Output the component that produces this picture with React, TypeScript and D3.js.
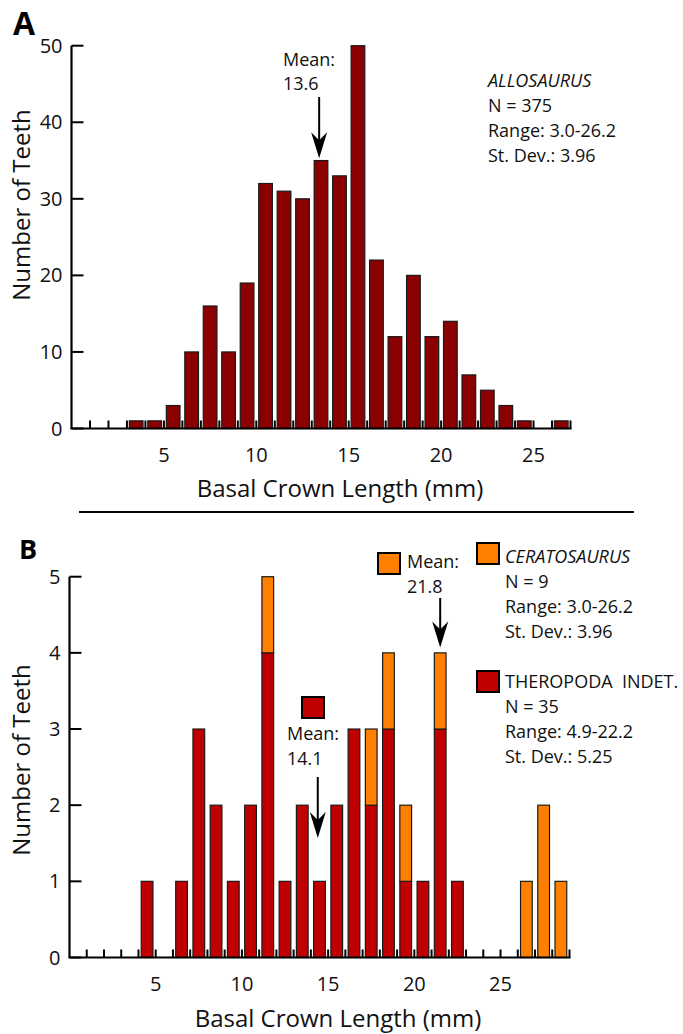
import * as d3 from "d3";

// Panel A: Allosaurus tooth counts per 1 mm bin (bin start, count)
const allosaurusBins = [3, 4, 5, 6, 7, 8, 9, 10, 11, 12, 13, 14, 15, 16, 17, 18, 19, 20, 21, 22, 23, 24, 26];
const allosaurusCounts = [1, 1, 3, 10, 16, 10, 19, 32, 31, 30, 35, 33, 50, 22, 12, 20, 12, 14, 7, 5, 3, 1, 1];

// Panel B: stacked, theropoda indet. below, ceratosaurus on top
const theropodaBins = [4, 6, 7, 8, 9, 10, 11, 12, 13, 14, 15, 16, 17, 18, 19, 20, 21, 22];
const theropodaCounts = [1, 1, 3, 2, 1, 2, 4, 1, 2, 1, 2, 3, 2, 3, 1, 1, 3, 1];
const ceratosaurusBins = [11, 17, 18, 19, 21, 26, 27, 28];
const ceratosaurusCounts = [1, 1, 1, 1, 1, 1, 2, 1];

const yTicksA = [0, 10, 20, 30, 40, 50];
const yTicksB = [0, 1, 2, 3, 4, 5];
const xLabels = [5, 10, 15, 20, 25];

const FONT = "'Open Sans', sans-serif";
const DARK_RED = "#8b0000";
const RED = "#c00000";
const ORANGE = "#ff8000";

function Arrow({ x, y1, y2 }: { x: number; y1: number; y2: number }) {
  return (
    <g>
      <line x1={x} x2={x} y1={y1} y2={y2 - 16} stroke="#000" strokeWidth={2} />
      <path
        d={`M${x},${y2} L${x - 8},${y2 - 26} L${x},${y2 - 18} L${x + 8},${y2 - 26} Z`}
        fill="#000"
      />
    </g>
  );
}

function Axes({
  x,
  y,
  yTicks,
  maxBin,
  labelY,
}: {
  x: d3.ScaleLinear<number, number>;
  y: d3.ScaleLinear<number, number>;
  yTicks: number[];
  maxBin: number;
  labelY: number;
}) {
  const x0 = x.range()[0];
  const y0 = y.range()[0];
  const [, yTop] = y.range();
  return (
    <g>
      <line x1={x0} x2={x0} y1={yTop} y2={y0} stroke="#000" strokeWidth={2.2} />
      <line x1={x0 - 1} x2={x.range()[1] + 1} y1={y0} y2={y0} stroke="#000" strokeWidth={2.2} />
      {yTicks.map((t) => (
        <g key={t}>
          <line x1={x0} x2={x0 + 12} y1={y(t)} y2={y(t)} stroke="#000" strokeWidth={2} />
          <text x={x0 - 9} y={y(t) + 7} textAnchor="end" fontSize={20} fontFamily={FONT} fill="#111">
            {t}
          </text>
        </g>
      ))}
      {d3.range(1, maxBin + 1).map((t) => (
        <line key={t} x1={x(t)} x2={x(t)} y1={y0} y2={y0 - 8} stroke="#000" strokeWidth={2} />
      ))}
      {xLabels.map((t) => (
        <text key={t} x={x(t)} y={labelY} textAnchor="middle" fontSize={20} fontFamily={FONT} fill="#111">
          {t}
        </text>
      ))}
    </g>
  );
}

export default function App() {
  const xA = d3.scaleLinear().domain([0, 27]).range([71.5, 570.5]);
  const yA = d3.scaleLinear().domain([0, 50]).range([428.5, 45.7]);
  const xB = d3.scaleLinear().domain([0, 29]).range([69.5, 569.5]);
  const yB = d3.scaleLinear().domain([0, 5]).range([957.5, 576.7]);

  const bwA = (xA(1) - xA(0)) * 0.74;
  const bwB = (xB(1) - xB(0)) * 0.68;

  // stacked table for panel B
  const binsB = Array.from(new Set([...theropodaBins, ...ceratosaurusBins])).sort((a, b) => a - b);
  const tableB = binsB.map((b) => {
    const ti = theropodaBins.indexOf(b);
    const ci = ceratosaurusBins.indexOf(b);
    return { bin: b, theropoda: ti >= 0 ? theropodaCounts[ti] : 0, ceratosaurus: ci >= 0 ? ceratosaurusCounts[ci] : 0 };
  });
  const stacked = d3.stack<any>().keys(["theropoda", "ceratosaurus"])(tableB);
  const colorB: Record<string, string> = { theropoda: RED, ceratosaurus: ORANGE };

  const txt = { fontFamily: FONT, fontSize: 18, fill: "#111" };

  return (
    <svg width={683} height={1034} style={{ position: "absolute", left: 0, top: 0, background: "#fff" }}>
      {/* ---- Panel A ---- */}
      <text x={13} y={35} fontFamily={FONT} fontWeight={700} fontSize={32}>A</text>
      {allosaurusBins.map((b, i) => (
        <rect
          key={b}
          x={xA(b + 0.5) - bwA / 2}
          y={yA(allosaurusCounts[i])}
          width={bwA}
          height={yA(0) - yA(allosaurusCounts[i])}
          fill={DARK_RED}
          stroke="#1a1a1a"
          strokeWidth={1.2}
        />
      ))}
      <Axes x={xA} y={yA} yTicks={yTicksA} maxBin={27} labelY={462} />
      <text x={340} y={497} textAnchor="middle" fontFamily={FONT} fontSize={24} fill="#111">
        Basal Crown Length (mm)
      </text>
      <text transform="translate(30,205) rotate(-90)" textAnchor="middle" fontFamily={FONT} fontSize={24} fill="#111">
        Number of Teeth
      </text>
      <text x={283} y={66} {...txt}>Mean:</text>
      <text x={283} y={90} {...txt}>13.6</text>
      <Arrow x={xA(13.4)} y1={yA(43.3)} y2={yA(35.3)} />
      <text x={488} y={87} {...txt} fontStyle="italic">ALLOSAURUS</text>
      <text x={488} y={112} {...txt}>N = 375</text>
      <text x={488} y={137} {...txt}>Range: 3.0-26.2</text>
      <text x={488} y={162} {...txt}>St. Dev.: 3.96</text>

      <line x1={79} x2={634} y1={512} y2={512} stroke="#000" strokeWidth={1.8} />

      {/* ---- Panel B ---- */}
      <text x={19} y={559} fontFamily={FONT} fontWeight={700} fontSize={27}>B</text>
      {stacked.map((series) =>
        series
          .filter((d) => d[1] > d[0])
          .map((d) => (
            <rect
              key={series.key + d.data.bin}
              x={xB(d.data.bin + 0.5) - bwB / 2}
              y={yB(d[1])}
              width={bwB}
              height={yB(d[0]) - yB(d[1])}
              fill={colorB[series.key]}
              stroke="#1a1a1a"
              strokeWidth={1.2}
            />
          ))
      )}
      <Axes x={xB} y={yB} yTicks={yTicksB} maxBin={29} labelY={991} />
      <text x={338} y={1027} textAnchor="middle" fontFamily={FONT} fontSize={24} fill="#111">
        Basal Crown Length (mm)
      </text>
      <text transform="translate(30,760) rotate(-90)" textAnchor="middle" fontFamily={FONT} fontSize={24} fill="#111">
        Number of Teeth
      </text>

      {/* mean markers */}
      <rect x={302} y={697} width={22} height={21} fill={RED} stroke="#000" strokeWidth={2} />
      <text x={287} y={740} {...txt}>Mean:</text>
      <text x={287} y={765} {...txt}>14.1</text>
      <Arrow x={xB(14.4)} y1={yB(2.37)} y2={yB(1.57)} />

      <rect x={378} y={553} width={22} height={21} fill={ORANGE} stroke="#000" strokeWidth={2} />
      <text x={407} y={568} {...txt}>Mean:</text>
      <text x={407} y={593} {...txt}>21.8</text>
      <Arrow x={xB(21.5)} y1={yB(4.72)} y2={yB(4.07)} />

      {/* legend */}
      <rect x={477} y={543} width={22} height={21} fill={ORANGE} stroke="#000" strokeWidth={2} />
      <text x={505} y={563} {...txt} fontStyle="italic">CERATOSAURUS</text>
      <text x={505} y={588} {...txt}>N = 9</text>
      <text x={505} y={613} {...txt}>Range: 3.0-26.2</text>
      <text x={505} y={638} {...txt}>St. Dev.: 3.96</text>

      <rect x={477} y={671} width={22} height={21} fill={RED} stroke="#000" strokeWidth={2} />
      <text x={505} y={688} {...txt}>{"THEROPODA\u00a0 INDET."}</text>
      <text x={505} y={713} {...txt}>N = 35</text>
      <text x={505} y={738} {...txt}>Range: 4.9-22.2</text>
      <text x={505} y={763} {...txt}>St. Dev.: 5.25</text>
    </svg>
  );
}
